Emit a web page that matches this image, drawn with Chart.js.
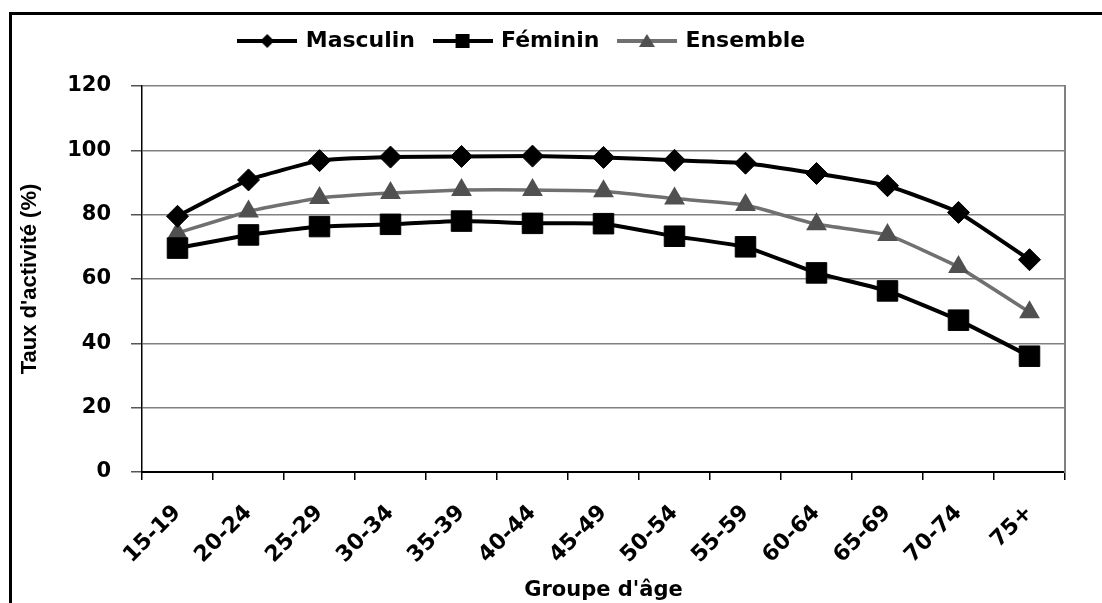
<!DOCTYPE html>
<html>
<head>
<meta charset="utf-8">
<script src="https://cdn.jsdelivr.net/npm/chart.js@4"></script>
<style>
  html, body { margin: 0; padding: 0; background: #fff; overflow: hidden; }
  #frame { position: absolute; left: 9px; top: 12px; width: 1200px; height: 700px; border: 3px solid #000; }
  #wrap { position: absolute; left: 0; top: 0; width: 1102px; height: 603px; }
</style>
</head>
<body>
<div id="frame"></div>
<div id="wrap"><canvas id="chart" width="1102" height="603"></canvas></div>
<script>
const ageGroups = ['15-19', '20-24', '25-29', '30-34', '35-39', '40-44', '45-49', '50-54', '55-59', '60-64', '65-69', '70-74', '75+'];
const masculin = [79.5, 90.8, 96.8, 97.9, 98.1, 98.2, 97.8, 96.9, 96, 92.8, 89, 80.7, 66];
const feminin = [69.6, 73.7, 76.3, 77, 78, 77.3, 77.2, 73.3, 70, 61.9, 56.3, 47.2, 36];
const ensemble = [74.3, 81, 85.2, 86.7, 87.7, 87.7, 87.3, 85, 83, 77, 73.7, 63.7, 49.7];
const yTicks = [0, 20, 40, 60, 80, 100, 120];

const GREY = '#505050';

// legend swatch: line with a small marker in the middle
function swatch(kind, color, lineColor) {
  const c = document.createElement('canvas');
  c.width = 60; c.height = 20;
  const ctx = c.getContext('2d');
  ctx.strokeStyle = lineColor;
  ctx.lineWidth = 4;
  ctx.beginPath(); ctx.moveTo(0, 10); ctx.lineTo(60, 10); ctx.stroke();
  ctx.fillStyle = color;
  ctx.beginPath();
  if (kind === 'diamond') {
    ctx.moveTo(30, 3); ctx.lineTo(37, 10); ctx.lineTo(30, 17); ctx.lineTo(23, 10);
  } else if (kind === 'square') {
    ctx.rect(23, 3, 14, 14);
  } else {
    ctx.moveTo(30, 3); ctx.lineTo(38, 16); ctx.lineTo(22, 16);
  }
  ctx.closePath(); ctx.fill();
  return c;
}

const legendIcons = [
  swatch('diamond', '#000', '#000'),
  swatch('square', '#000', '#000'),
  swatch('triangle', GREY, '#707070'),
];

const tweakLayout = {
  id: 'tweakLayout',
  beforeInit(chart) {
    const legend = chart.legend;
    const fit = legend.fit;
    legend.fit = function () { fit.call(this); this.height = 76; };
  },
  afterLayout(chart) {
    chart.legend.left -= 10;
    chart.legend.right -= 10;
  }
};

new Chart(document.getElementById('chart'), {
  type: 'line',
  data: {
    labels: ageGroups,
    datasets: [
      {
        label: 'Masculin', data: masculin,
        borderColor: '#000', backgroundColor: '#000', borderWidth: 4,
        pointStyle: 'rectRot', pointRadius: 11, pointBorderWidth: 1,
      },
      {
        label: 'Féminin', data: feminin,
        borderColor: '#000', backgroundColor: '#000', borderWidth: 4,
        pointStyle: 'rect', pointRadius: 14.5, pointBorderWidth: 1,
      },
      {
        label: 'Ensemble', data: ensemble,
        borderColor: '#707070', backgroundColor: GREY, borderWidth: 3.5,
        pointStyle: 'triangle', pointRadius: 12, pointBorderWidth: 0, pointBorderColor: GREY,
      },
    ],
  },
  options: {
    responsive: false,
    animation: false,
    tension: 0.12,
    layout: { padding: { left: 0, right: 37, top: 10, bottom: 0 } },
    plugins: {
      tooltip: { enabled: false },
      legend: {
        position: 'top',
        labels: {
          usePointStyle: true,
          pointStyleWidth: 55,
          padding: 20,
          color: '#000',
          font: { family: 'DejaVu Sans', size: 22, weight: 'bold' },
          generateLabels(chart) {
            return chart.data.datasets.map((ds, i) => ({
              text: ds.label, datasetIndex: i, pointStyle: legendIcons[i],
              fillStyle: ds.backgroundColor, strokeStyle: ds.borderColor, lineWidth: 0, fontColor: '#000',
            }));
          },
        },
      },
    },
    scales: {
      x: {
        offset: true,
        grid: { display: true, drawOnChartArea: false, offset: true, tickLength: 8, color: '#000', lineWidth: 1.5 },
        border: { display: true, color: '#000', width: 2 },
        ticks: {
          minRotation: 45, maxRotation: 45, color: '#000', padding: 20,
          font: { family: 'DejaVu Sans', size: 22, weight: 'bold' },
        },
        title: {
          display: true, text: "Groupe d'âge", color: '#000', padding: { top: 0, bottom: 0 },
          font: { family: 'DejaVu Sans', size: 21, weight: 'bold' },
        },
        afterFit(scale) { scale.height = 131; },
      },
      y: {
        min: 0, max: 120,
        afterBuildTicks(scale) { scale.ticks = yTicks.map(v => ({ value: v })); },
        grid: { color: '#808080', lineWidth: 1.5, tickLength: 11, tickColor: '#555' },
        border: { display: true, color: '#000', width: 1.5 },
        ticks: {
          color: '#000', padding: 20,
          font: { family: 'DejaVu Sans', size: 21, weight: 'bold' },
        },
        title: {
          display: true, text: "Taux d'activité (%)", color: '#000', padding: { top: 17, bottom: 0 },
          font: { family: "'Liberation Sans Narrow', 'Liberation Sans'", size: 22, weight: 'bold' },
        },
        afterFit(scale) { scale.width = 142; },
      },
      y2: {
        position: 'right', min: 0, max: 120,
        grid: { display: false },
        border: { display: true, color: '#808080', width: 2 },
        ticks: { display: false },
        afterFit(scale) { scale.width = 0; },
      },
    },
  },
  plugins: [tweakLayout],
});
</script>
</body>
</html>
